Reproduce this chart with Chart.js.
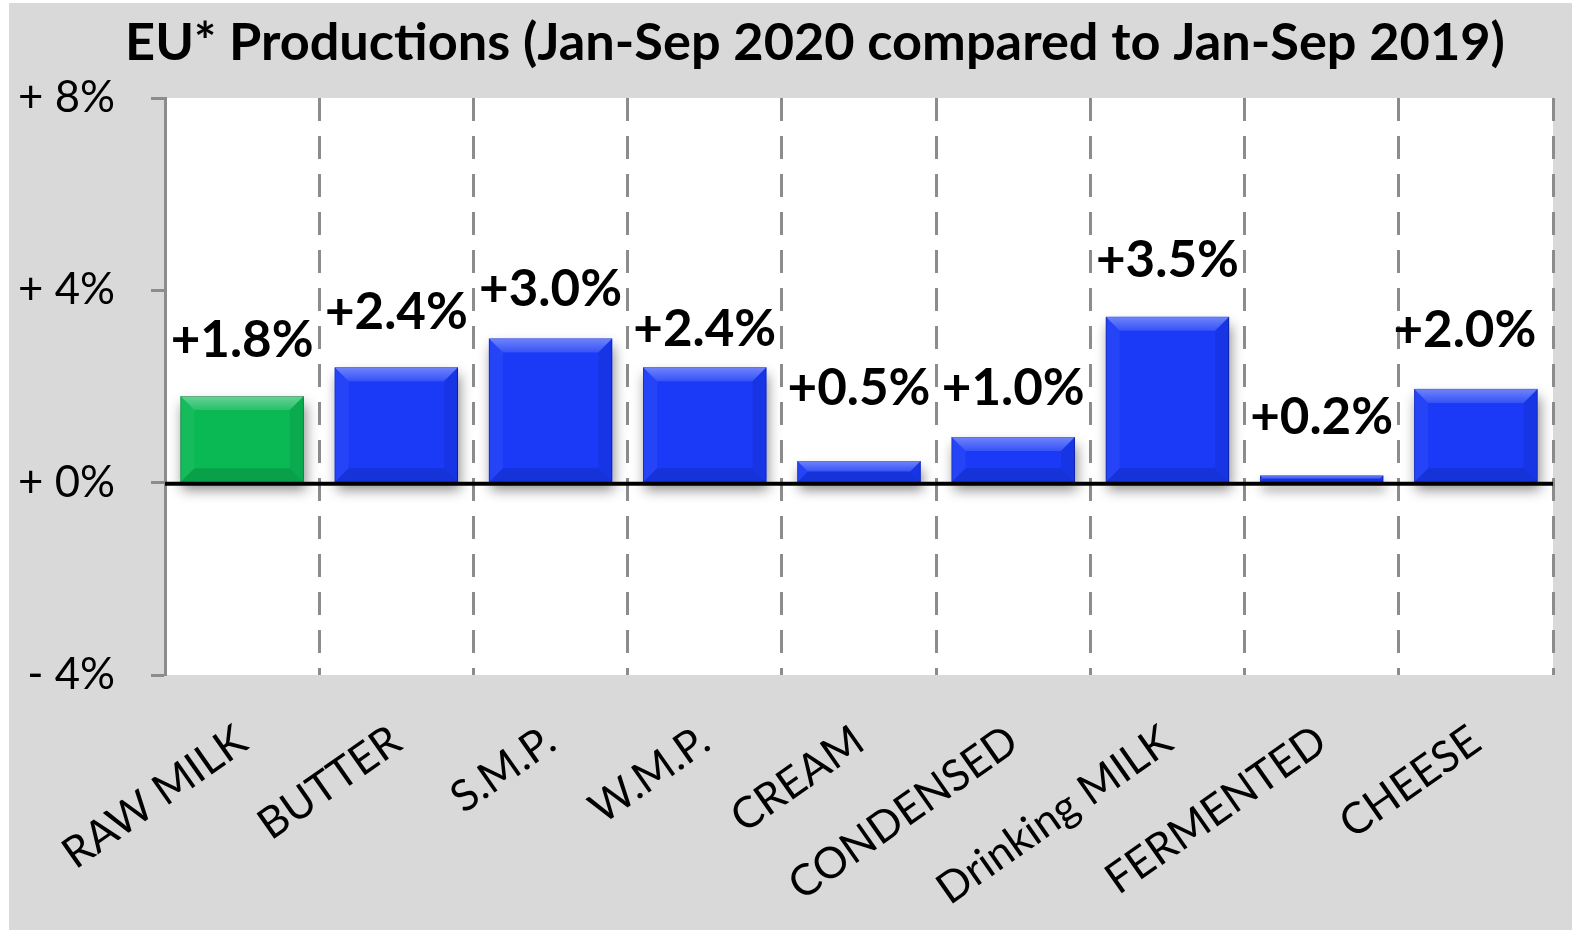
<!DOCTYPE html>
<html>
<head>
<meta charset="utf-8">
<script src="https://cdn.jsdelivr.net/npm/chart.js@4"></script>
<style>
  html, body { margin: 0; padding: 0; background: #ffffff; }
  #wrap { position: absolute; left: 9px; top: 3px; width: 1563px; height: 927px; }
</style>
</head>
<body>
<div id="wrap"><canvas id="prodChart" width="1563" height="927"></canvas></div>
<script>
// Values
const categories = ['RAW MILK', 'BUTTER', 'S.M.P.', 'W.M.P.', 'CREAM', 'CONDENSED', 'Drinking MILK', 'FERMENTED', 'CHEESE'];
const changes = [1.8, 2.4, 3.0, 2.4, 0.45, 0.95, 3.45, 0.15, 1.95];
const changeLabels = ['+1.8%', '+2.4%', '+3.0%', '+2.4%', '+0.5%', '+1.0%', '+3.5%', '+0.2%', '+2.0%'];
const barColors = ['#0ab854', '#1a3af7', '#1a3af7', '#1a3af7', '#1a3af7', '#1a3af7', '#1a3af7', '#1a3af7', '#1a3af7'];
const borderColors = ['#067a38', '#0c22b0', '#0c22b0', '#0c22b0', '#0c22b0', '#0c22b0', '#0c22b0', '#0c22b0', '#0c22b0'];
const yMin = -4, yMax = 8, yStep = 4;
const titleText = 'EU* Productions (Jan-Sep 2020 compared to Jan-Sep 2019)';

const FAMILY = 'Lato, "Open Sans", sans-serif';

// pick font sizes so text widths match the reference
const measureCtx = document.createElement('canvas').getContext('2d');
function fitSize(text, weight, target) {
    measureCtx.font = weight + ' 100px ' + FAMILY;
    return Math.round(100 * target / measureCtx.measureText(text).width * 10) / 10;
}
const titleSize = fitSize(titleText, 'bold', 1380);
const valueSize = fitSize('+1.8%', 'bold', 143);
const yTickSize = fitSize('+ 8%', 'normal', 97);
const xTickSize = fitSize('CONDENSED', 'normal', 268);

// label nudges [dx, dy above bar top] in px
const labelNudge = [[0, 56], [0, 55], [0, 49], [0, 38], [0, 73], [0, 48], [0, 56], [0, 58], [-11, 58]];

const decorPlugin = {
    id: 'decor',
    beforeDraw(chart) {
        const { ctx, chartArea: a } = chart;
        ctx.save();
        ctx.fillStyle = '#d9d9d9';
        ctx.fillRect(0, 0, chart.width, chart.height);
        ctx.fillStyle = '#ffffff';
        ctx.fillRect(a.left, a.top, a.right - a.left, a.bottom - a.top);
        ctx.restore();
    },
    afterDraw(chart) {
        const ctx = chart.ctx;
        ctx.save();
        ctx.fillStyle = '#000000';
        ctx.font = 'bold ' + titleSize + 'px ' + FAMILY;
        ctx.textAlign = 'center';
        ctx.textBaseline = 'alphabetic';
        ctx.fillText(titleText, 806, 57);
        ctx.restore();
    },
    beforeDatasetsDraw(chart) {
        // soft drop shadow under each bar
        const ctx = chart.ctx;
        const meta = chart.getDatasetMeta(0);
        ctx.save();
        ctx.shadowColor = 'rgba(0,0,0,0.45)';
        ctx.shadowBlur = 12;
        ctx.shadowOffsetX = 2;
        ctx.shadowOffsetY = 8;
        meta.data.forEach((bar, i) => {
            const { x, y, base, width } = bar.getProps(['x', 'y', 'base', 'width'], true);
            ctx.fillStyle = barColors[i];
            ctx.fillRect(x - width / 2, y, width, base - y);
        });
        ctx.restore();
    },
    afterDatasetsDraw(chart) {
        const ctx = chart.ctx;
        const meta = chart.getDatasetMeta(0);
        const yScale = chart.scales.y;
        const a = chart.chartArea;

        // bevel on each bar
        meta.data.forEach((bar) => {
            const { x, y, base, width } = bar.getProps(['x', 'y', 'base', 'width'], true);
            const l = x - width / 2, r = x + width / 2, t = y, b = base;
            const bv = Math.min(14, (b - t) / 2);
            ctx.save();
            const g = ctx.createLinearGradient(0, t, 0, t + bv);
            g.addColorStop(0, 'rgba(255,255,255,0.38)');
            g.addColorStop(1, 'rgba(255,255,255,0.12)');
            ctx.fillStyle = g;
            ctx.beginPath();
            ctx.moveTo(l, t); ctx.lineTo(r, t); ctx.lineTo(r - bv, t + bv); ctx.lineTo(l + bv, t + bv); ctx.closePath();
            ctx.fill();
            ctx.fillStyle = 'rgba(255,255,255,0.05)';
            ctx.beginPath();
            ctx.moveTo(l, t); ctx.lineTo(l + bv, t + bv); ctx.lineTo(l + bv, b - bv); ctx.lineTo(l, b); ctx.closePath();
            ctx.fill();
            ctx.fillStyle = 'rgba(0,0,0,0.07)';
            ctx.beginPath();
            ctx.moveTo(r, t); ctx.lineTo(r - bv, t + bv); ctx.lineTo(r - bv, b - bv); ctx.lineTo(r, b); ctx.closePath();
            ctx.fill();
            ctx.fillStyle = 'rgba(0,0,0,0.12)';
            ctx.beginPath();
            ctx.moveTo(l, b); ctx.lineTo(r, b); ctx.lineTo(r - bv, b - bv); ctx.lineTo(l + bv, b - bv); ctx.closePath();
            ctx.fill();
            ctx.restore();
        });

        // zero line
        const y0 = yScale.getPixelForValue(0);
        ctx.save();
        ctx.strokeStyle = '#000000';
        ctx.lineWidth = 4;
        ctx.beginPath();
        ctx.moveTo(a.left, y0 + 1);
        ctx.lineTo(a.right, y0 + 1);
        ctx.stroke();
        ctx.restore();

        // value labels
        ctx.save();
        ctx.fillStyle = '#000000';
        ctx.font = 'bold ' + valueSize + 'px ' + FAMILY;
        ctx.textAlign = 'center';
        ctx.textBaseline = 'middle';
        meta.data.forEach((bar, i) => {
            const n = labelNudge[i];
            ctx.fillText(changeLabels[i], bar.x + n[0], bar.y - n[1]);
        });
        ctx.restore();
    }
};

const ctx = document.getElementById('prodChart').getContext('2d');

const prodChart = new Chart(ctx, {
    type: 'bar',
    data: {
        labels: categories,
        datasets: [{
            data: changes,
            backgroundColor: barColors,
            borderColor: borderColors,
            borderWidth: 1,
            categoryPercentage: 1.0,
            barPercentage: 0.8
        }]
    },
    options: {
        responsive: false,
        animation: false,
        devicePixelRatio: 1,
        layout: {
            padding: { left: 0, right: 19, top: 95, bottom: 0 }
        },
        plugins: {
            legend: { display: false },
            title: { display: false },
            tooltip: { enabled: false }
        },
        scales: {
            x: {
                grid: {
                    offset: true,
                    drawTicks: false,
                    lineWidth: 3,
                    color: (c) => (c.index === 0 || c.index >= categories.length) ? 'rgba(0,0,0,0)' : '#8c8c8c'
                },
                border: { display: false, dash: [23, 15] },
                ticks: {
                    color: '#000000',
                    font: { family: FAMILY, size: xTickSize },
                    maxRotation: 35,
                    minRotation: 35,
                    padding: 40,
                    autoSkip: false
                },
                afterFit: (scale) => { scale.height = 255; }
            },
            y: {
                min: yMin,
                max: yMax,
                grid: {
                    drawOnChartArea: false,
                    drawTicks: true,
                    tickLength: 14,
                    tickWidth: 3,
                    tickColor: '#8c8c8c'
                },
                border: { display: true, color: '#8c8c8c', width: 3 },
                ticks: {
                    stepSize: yStep,
                    color: '#000000',
                    padding: 36,
                    font: { family: FAMILY, size: yTickSize },
                    callback: (v) => (v < 0 ? '- ' : '+ ') + Math.abs(v) + '%'
                },
                afterFit: (scale) => { scale.width = 156; }
            }
        }
    },
    plugins: [decorPlugin]
});
</script>
</body>
</html>
